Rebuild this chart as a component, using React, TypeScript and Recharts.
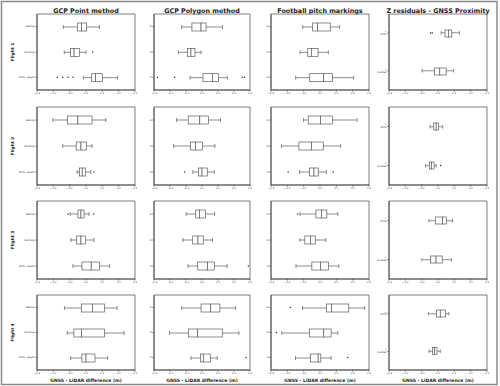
import React from 'react';
import { ComposedChart, Bar, Scatter, XAxis, YAxis, ReferenceArea } from 'recharts';

const methodTitles = ['GCP Point method', 'GCP Polygon method', 'Football pitch markings', 'Z residuals - GNSS Proximity'];
const flightLabels = ['Flight 1', 'Flight 2', 'Flight 3', 'Flight 4'];
const xLabel = 'GNSS - LiDAR difference (m)';
const xTicks = [-0.3, -0.2, -0.1, 0, 0.1, 0.2, 0.3];

const pointCategories = ['Easting', 'Northing', 'Ortho. Height'];
const componentCategories = ['E', 'N', 'Z'];
const proximityCategories = ['GCPs', 'Football'];

// [lower whisker, Q1, median, Q3, upper whisker] for each flight, each category
const pointStats = [
  [[-0.139, -0.053, -0.027, 0.004, 0.082], [-0.133, -0.094, -0.073, -0.041, 0.0], [-0.016, 0.035, 0.059, 0.1, 0.194]],
  [[-0.203, -0.113, -0.05, 0.037, 0.121], [-0.142, -0.06, -0.031, 0.004, 0.037], [-0.054, -0.039, -0.023, -0.002, 0.029]],
  [[-0.097, -0.049, -0.031, -0.012, 0.018], [-0.093, -0.059, -0.031, -0.004, 0.05], [-0.08, -0.025, 0.032, 0.082, 0.145]],
  [[-0.132, -0.027, 0.039, 0.114, 0.19], [-0.115, -0.074, -0.027, 0.114, 0.233], [-0.094, -0.025, 0.0, 0.055, 0.133]],
];
const pointOutliers = [
  [[], [0.041], [-0.175, -0.143, -0.11, -0.08]],
  [[], [], [0.049]],
  [[-0.109, 0.047], [], []],
  [[], [], []],
];

const polygonStats = [
  [[-0.127, -0.063, -0.006, 0.025, 0.129], [-0.148, -0.09, -0.069, -0.044, -0.006], [-0.075, 0.006, 0.065, 0.104, 0.158]],
  [[-0.159, -0.086, -0.014, 0.041, 0.116], [-0.178, -0.073, -0.041, 0.004, 0.081], [-0.057, -0.022, 0.0, 0.033, 0.077]],
  [[-0.099, -0.039, -0.016, 0.021, 0.079], [-0.12, -0.058, -0.025, 0.01, 0.066], [-0.087, -0.027, 0.035, 0.077, 0.157]],
  [[-0.127, -0.006, 0.054, 0.112, 0.21], [-0.204, -0.085, -0.027, 0.127, 0.231], [-0.069, -0.01, 0.008, 0.052, 0.095]],
];
const polygonOutliers = [
  [[], [], [-0.279, -0.171, 0.25, 0.265]],
  [[], [], [-0.108]],
  [[], [], [0.29]],
  [[], [], [0.275]],
];

const pitchStats = [
  [[-0.106, -0.045, -0.014, 0.063, 0.12], [-0.122, -0.075, -0.053, -0.012, 0.051], [-0.149, -0.063, 0.022, 0.076, 0.206]],
  [[-0.101, -0.072, 0.003, 0.076, 0.226], [-0.236, -0.129, -0.052, 0.02, 0.126], [-0.125, -0.064, -0.037, -0.011, 0.039]],
  [[-0.123, -0.025, 0.009, 0.042, 0.109], [-0.123, -0.093, -0.059, -0.029, 0.036], [-0.147, -0.05, 0.003, 0.052, 0.115]],
  [[-0.107, 0.039, 0.07, 0.176, 0.273], [-0.234, -0.065, 0.023, 0.068, 0.109], [-0.15, -0.058, -0.011, 0.005, 0.068]],
];
const pitchOutliers = [
  [[], [], []],
  [[], [], [-0.195, 0.081]],
  [[-0.137], [], []],
  [[-0.182], [-0.267], [0.17]],
];

const proximityStats = [
  [[0.019, 0.043, 0.064, 0.084, 0.131], [-0.097, -0.022, 0.011, 0.05, 0.096]],
  [[-0.048, -0.026, -0.011, 0.003, 0.029], [-0.076, -0.052, -0.04, -0.024, -0.011]],
  [[-0.056, -0.016, 0.028, 0.052, 0.089], [-0.099, -0.046, -0.012, 0.026, 0.082]],
  [[-0.059, -0.01, 0.014, 0.047, 0.067], [-0.055, -0.033, -0.02, -0.006, 0.014]],
];
const proximityOutliers = [
  [[-0.045, -0.035], []],
  [[], [0.016]],
  [[], []],
  [[], []],
];

const FONT = '"DejaVu Sans", sans-serif';
const LINE = '#5c5c5c';
const TEXT = '#222';

const colLeft = [37, 154, 271, 389];
const colWidth = [98, 96, 98, 98];
const rowTop = [14, 107, 201, 295];
const rowHeight = [76, 78, 78, 75];

const fmt = (v: number) => (Math.abs(v) < 1e-9 ? '0.0' : v.toFixed(1)).replace('-', '\u2212');

const Whisker = (p: any) => {
  const { x, y, width, height } = p;
  const cy = y + height / 2;
  return (
    <g stroke={LINE} strokeWidth={0.7}>
      <line x1={x} x2={x + width} y1={cy} y2={cy} />
      <line x1={x} x2={x} y1={y} y2={y + height} />
      <line x1={x + width} x2={x + width} y1={y} y2={y + height} />
    </g>
  );
};

const BoxHalf = (p: any) => (
  <rect x={p.x} y={p.y} width={p.width} height={p.height} fill="#fff" stroke={LINE} strokeWidth={0.7} />
);

const Flier = (p: any) => <circle cx={p.cx} cy={p.cy} r={0.75} fill="#333" />;

const OneLineTick = (p: any) => (
  <text x={p.x} y={p.y} textAnchor="end" dominantBaseline="central" fontSize={2.3} fill={TEXT} fontFamily={FONT}>
    {p.payload.value}
  </text>
);

const TwoLineTick = (p: any) => (
  <text x={p.x} y={p.y} textAnchor="end" fontSize={2.3} fill={TEXT} fontFamily={FONT}>
    <tspan x={p.x} dy={-1.2} fontSize={1.8}>Z</tspan>
    <tspan x={p.x} dy={2.8}>{p.payload.value}</tspan>
  </text>
);

const columns = [
  { cats: pointCategories, stats: pointStats, outliers: pointOutliers, yWidth: 30, box: 8, cap: 4 },
  { cats: componentCategories, stats: polygonStats, outliers: polygonOutliers, yWidth: 14, box: 8, cap: 4 },
  { cats: componentCategories, stats: pitchStats, outliers: pitchOutliers, yWidth: 14, box: 8, cap: 4 },
  { cats: proximityCategories, stats: proximityStats, outliers: proximityOutliers, yWidth: 14, box: 7, cap: 3.5 },
];

function Panel({ col, row }: { col: number; row: number }) {
  const cfg = columns[col];
  const stats = cfg.stats[row];
  const outs = cfg.outliers[row];
  const data = cfg.cats.map((name, i) => ({
    name,
    whisker: [stats[i][0], stats[i][4]],
    lower: [stats[i][1], stats[i][2]],
    upper: [stats[i][2], stats[i][3]],
  }));
  const fliers = cfg.cats.flatMap((name, i) => outs[i].map((v) => ({ name, v })));
  const pw = colWidth[col];
  const ph = rowHeight[row];
  const yTick = col === 3 ? <TwoLineTick /> : <OneLineTick />;

  return (
    <div style={{ position: 'absolute', left: colLeft[col] - cfg.yWidth, top: rowTop[row] - 2 }}>
      <ComposedChart
        width={cfg.yWidth + pw + 2}
        height={ph + 12}
        data={data}
        layout="vertical"
        margin={{ top: 2, right: 2, bottom: 0, left: 0 }}
      >
        <XAxis
          type="number"
          domain={[-0.3, 0.3]}
          ticks={xTicks}
          interval={0}
          allowDataOverflow
          tickFormatter={fmt}
          tick={{ fontSize: 2.5, fill: TEXT, fontFamily: FONT }}
          tickSize={1.5}
          tickMargin={1}
          height={10}
          stroke={LINE}
        />
        <YAxis
          yAxisId="main"
          type="category"
          dataKey="name"
          allowDuplicatedCategory={false}
          width={cfg.yWidth}
          interval={0}
          tick={yTick}
          tickSize={1.5}
          tickMargin={1}
          stroke={LINE}
        />
        <YAxis yAxisId="w" type="category" dataKey="name" hide allowDuplicatedCategory={false} />
        <YAxis yAxisId="u" type="category" dataKey="name" hide allowDuplicatedCategory={false} />
        <ReferenceArea yAxisId="main" x1={-0.3} x2={0.3} fill="none" stroke={LINE} strokeWidth={0.8} />
        <Bar yAxisId="w" dataKey="whisker" barSize={cfg.cap} shape={Whisker} isAnimationActive={false} />
        <Bar yAxisId="main" dataKey="lower" barSize={cfg.box} shape={BoxHalf} isAnimationActive={false} />
        <Bar yAxisId="u" dataKey="upper" barSize={cfg.box} shape={BoxHalf} isAnimationActive={false} />
        <Scatter yAxisId="main" data={fliers} dataKey="v" shape={Flier} isAnimationActive={false} />
      </ComposedChart>
    </div>
  );
}

export default function App() {
  return (
    <div style={{ position: 'absolute', left: 0, top: 0, width: 500, height: 386, background: '#fff' }}>
      <svg width={500} height={386} style={{ position: 'absolute', left: 0, top: 0 }} fontFamily={FONT}>
        <rect x={1.5} y={1.5} width={495.5} height={383} fill="none" stroke="#8a8a8a" strokeWidth={1.5} />
        {methodTitles.map((t, c) => (
          <text key={t} x={colLeft[c] + colWidth[c] / 2} y={12.5} textAnchor="middle" fontSize={6.4} fontWeight="bold" fill={TEXT}>
            {t}
          </text>
        ))}
        {flightLabels.map((t, r) => {
          const cy = rowTop[r] + rowHeight[r] / 2;
          return (
            <text key={t} x={12} y={cy} transform={`rotate(-90 12 ${cy})`} textAnchor="middle" dominantBaseline="central" fontSize={4.3} fontWeight="bold" fill={TEXT}>
              {t}
            </text>
          );
        })}
        {colLeft.map((l, c) => (
          <text key={c} x={l + colWidth[c] / 2} y={381.5} textAnchor="middle" fontSize={4.5} fontWeight="bold" fill={TEXT}>
            {xLabel}
          </text>
        ))}
      </svg>
      {rowTop.map((_, r) => columns.map((_, c) => <Panel key={`${r}-${c}`} col={c} row={r} />))}
    </div>
  );
}
